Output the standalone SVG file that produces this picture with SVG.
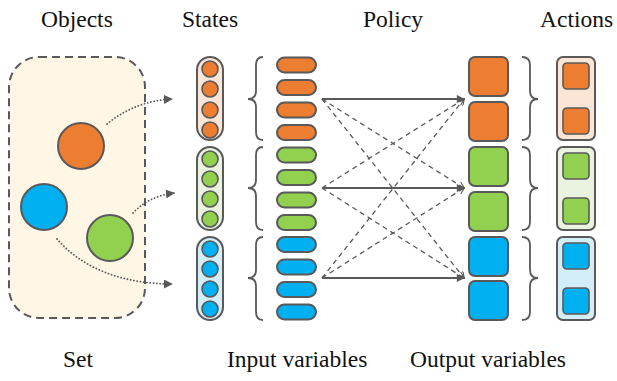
<svg xmlns="http://www.w3.org/2000/svg" width="617" height="381" viewBox="0 0 617 381">
<defs>
<style>
.t{font-family:"Liberation Serif","Times New Roman",serif;font-size:23.5px;fill:#111}
.o{fill:#ED7D31}.g{fill:#92D050}.b{fill:#00B0F0}
.sk{stroke:#595959;stroke-width:2}
.ck{stroke:#595959;stroke-width:1.6}
.dot{stroke:#595959;stroke-width:1.8;fill:none;stroke-dasharray:0.1 3.2;stroke-linecap:round}
.sol{stroke:#595959;stroke-width:2;fill:none}
.dsh{stroke:#595959;stroke-width:1.3;fill:none;stroke-dasharray:5 4}
.br{stroke:#595959;stroke-width:1.8;fill:none}
</style>
<marker id="ah" viewBox="0 0 10 10" refX="9" refY="5" markerWidth="10" markerHeight="8" markerUnits="userSpaceOnUse" orient="auto"><path d="M0,0 L10,5 L0,10 z" fill="#595959"/></marker>
<marker id="ahs" viewBox="0 0 10 10" refX="9" refY="5" markerWidth="8" markerHeight="7" markerUnits="userSpaceOnUse" orient="auto"><path d="M0,0 L10,5 L0,10" fill="none" stroke="#595959" stroke-width="1.5"/></marker>
<marker id="ahd" viewBox="0 0 10 10" refX="9" refY="5" markerWidth="9" markerHeight="9" markerUnits="userSpaceOnUse" orient="auto"><path d="M0,0 L10,5 L0,10 z" fill="#595959"/></marker>
</defs>
<rect width="617" height="381" fill="#fff"/>

<g id="labels">
<text class="t" x="41" y="27">Objects</text>
<text class="t" x="182" y="27">States</text>
<text class="t" x="363" y="27">Policy</text>
<text class="t" x="540" y="27">Actions</text>
<text class="t" x="63" y="367">Set</text>
<text class="t" x="227" y="367">Input variables</text>
<text class="t" x="410" y="367">Output variables</text>
</g>

<g id="set">
<rect x="9" y="57" width="136" height="261" rx="30" fill="#FFF6E6" stroke="#595959" stroke-width="2" stroke-dasharray="8 5"/>
<circle cx="81" cy="146" r="23" class="o sk"/>
<circle cx="44" cy="207" r="23" class="b sk"/>
<circle cx="110" cy="238" r="23" class="g sk"/>
</g>

<g id="states">
<g id="state-orange">
<rect x="197" y="57" width="26" height="83" rx="13" fill="#FBE5D6" class="sk"/>
<circle cx="210" cy="69" r="8" class="o ck"/><circle cx="210" cy="89" r="8" class="o ck"/><circle cx="210" cy="110" r="8" class="o ck"/><circle cx="210" cy="130" r="8" class="o ck"/>
</g>
<g id="state-green">
<rect x="197" y="147" width="26" height="83" rx="13" fill="#E9F3DF" class="sk"/>
<circle cx="210" cy="159" r="8" class="g ck"/><circle cx="210" cy="179" r="8" class="g ck"/><circle cx="210" cy="199" r="8" class="g ck"/><circle cx="210" cy="219" r="8" class="g ck"/>
</g>
<g id="state-blue">
<rect x="197" y="237" width="26" height="83" rx="13" fill="#D4EEF9" class="sk"/>
<circle cx="210" cy="249" r="8" class="b ck"/><circle cx="210" cy="269" r="8" class="b ck"/><circle cx="210" cy="289" r="8" class="b ck"/><circle cx="210" cy="309" r="8" class="b ck"/>
</g>
</g>

<g id="inputs">
<rect x="277" y="57.5" width="39" height="15" rx="7.5" class="o sk"/>
<rect x="277" y="80" width="39" height="15" rx="7.5" class="o sk"/>
<rect x="277" y="102.5" width="39" height="15" rx="7.5" class="o sk"/>
<rect x="277" y="125" width="39" height="15" rx="7.5" class="o sk"/>
<rect x="277" y="147.5" width="39" height="15" rx="7.5" class="g sk"/>
<rect x="277" y="170" width="39" height="15" rx="7.5" class="g sk"/>
<rect x="277" y="192.5" width="39" height="15" rx="7.5" class="g sk"/>
<rect x="277" y="215" width="39" height="15" rx="7.5" class="g sk"/>
<rect x="277" y="237" width="39" height="15" rx="7.5" class="b sk"/>
<rect x="277" y="259.5" width="39" height="15" rx="7.5" class="b sk"/>
<rect x="277" y="282" width="39" height="15" rx="7.5" class="b sk"/>
<rect x="277" y="304.5" width="39" height="15" rx="7.5" class="b sk"/>
</g>

<g id="outputs">
<rect x="469" y="57" width="39" height="39" rx="6" class="o sk"/>
<rect x="469" y="102" width="39" height="39" rx="6" class="o sk"/>
<rect x="469" y="147" width="39" height="39" rx="6" class="g sk"/>
<rect x="469" y="192" width="39" height="39" rx="6" class="g sk"/>
<rect x="469" y="237" width="39" height="39" rx="6" class="b sk"/>
<rect x="469" y="281" width="39" height="39" rx="6" class="b sk"/>
</g>

<g id="actions">
<g id="action-orange">
<rect x="557" y="57" width="38" height="83" rx="6" fill="#FBE5D6" class="sk"/>
<rect x="563" y="63" width="26" height="26" rx="4" class="o ck"/>
<rect x="563" y="108" width="26" height="26" rx="4" class="o ck"/>
</g>
<g id="action-green">
<rect x="557" y="147" width="38" height="83" rx="6" fill="#E9F3DF" class="sk"/>
<rect x="563" y="153" width="26" height="26" rx="4" class="g ck"/>
<rect x="563" y="198" width="26" height="26" rx="4" class="g ck"/>
</g>
<g id="action-blue">
<rect x="557" y="237" width="38" height="83" rx="6" fill="#D4EEF9" class="sk"/>
<rect x="563" y="243" width="26" height="26" rx="4" class="b ck"/>
<rect x="563" y="288" width="26" height="26" rx="4" class="b ck"/>
</g>
</g>

<g id="connectors">
<path class="dot" d="M107,124 Q135,101 172,99" marker-end="url(#ahd)"/>
<path class="dot" d="M133,213 Q149,196 174,193" marker-end="url(#ahd)"/>
<path class="dot" d="M57,239 C82,268 122,284 172,284" marker-end="url(#ahd)"/>

<path class="br" d="M263,57 Q256,57 256,65 L256,91 Q256,99 248,99 Q256,99 256,107 L256,132 Q256,140 263,140"/>
<path class="br" d="M263,147 Q256,147 256,155 L256,180 Q256,188 248,188 Q256,188 256,196 L256,222 Q256,230 263,230"/>
<path class="br" d="M263,237 Q256,237 256,245 L256,270 Q256,278 248,278 Q256,278 256,286 L256,312 Q256,320 263,320"/>

<path class="br" d="M522,57 Q530,57 530,65 L530,91 Q530,99 538,99 Q530,99 530,107 L530,132 Q530,140 522,140"/>
<path class="br" d="M522,147 Q530,147 530,155 L530,180 Q530,188 538,188 Q530,188 530,196 L530,222 Q530,230 522,230"/>
<path class="br" d="M522,237 Q530,237 530,245 L530,270 Q530,278 538,278 Q530,278 530,286 L530,312 Q530,320 522,320"/>

<line class="sol" x1="322" y1="99" x2="464" y2="99" marker-end="url(#ah)"/>
<line class="sol" x1="322" y1="188" x2="464" y2="188" marker-end="url(#ah)"/>
<line class="sol" x1="322" y1="278" x2="464" y2="278" marker-end="url(#ah)"/>

<line class="dsh" x1="322" y1="99" x2="464" y2="188" marker-end="url(#ahs)"/>
<line class="dsh" x1="322" y1="99" x2="464" y2="278" marker-end="url(#ahs)"/>
<line class="dsh" x1="322" y1="188" x2="464" y2="99" marker-end="url(#ahs)"/>
<line class="dsh" x1="322" y1="188" x2="464" y2="278" marker-end="url(#ahs)"/>
<line class="dsh" x1="322" y1="278" x2="464" y2="99" marker-end="url(#ahs)"/>
<line class="dsh" x1="322" y1="278" x2="464" y2="188" marker-end="url(#ahs)"/>
</g>
</svg>
